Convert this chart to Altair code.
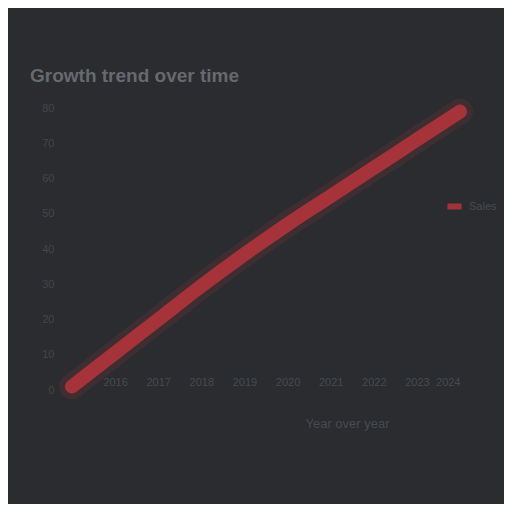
import altair as alt
import pandas as pd

years = [2015, 2016, 2017, 2018, 2019, 2020, 2021, 2022, 2023, 2024]
values = [1, 10.5, 20, 29.5, 38.5, 47, 55, 63, 71, 79]
series = ["Sales"] * len(years)

df = pd.DataFrame({"Year": years, "Value": values, "Series": series})

base = alt.Chart(df).encode(
    x=alt.X("Year:Q", title="Year over year",
            scale=alt.Scale(domain=[2015, 2024], nice=False),
            axis=alt.Axis(format="d", values=years[1:], grid=False, domain=False, ticks=False,
                          labelColor="#474a4f", labelFontSize=11, labelPadding=-14,
                          titleColor="#474a4f", titleFontSize=13, titleFontWeight="normal",
                          titlePadding=27, titleX=275, titleAnchor="middle")),
    y=alt.Y("Value:Q", title=None,
            scale=alt.Scale(domain=[0, 80], nice=False),
            axis=alt.Axis(values=[0, 10, 20, 30, 40, 50, 60, 70, 80], grid=False, domain=False,
                          ticks=False, labelColor="#43464b", labelFontSize=11, labelPadding=18)),
)

glow = base.mark_line(strokeWidth=26, strokeCap="round", opacity=0.15, interpolate="monotone").encode(
    color=alt.value("#b8343c"))
line = base.mark_line(strokeWidth=14, strokeCap="round", opacity=0.85, interpolate="monotone").encode(
    color=alt.Color("Series:N", scale=alt.Scale(range=["#b8343c"]),
                    legend=alt.Legend(orient="none", legendX=372, legendY=88, title=None,
                                      labelColor="#474a4f", labelFontSize=11,
                                      symbolType="stroke", symbolStrokeWidth=6, symbolSize=200)))

chart = (glow + line).properties(
    width=388, height=282,
    autosize=alt.AutoSizeParams(type="none"),
    padding={"top": 100, "left": 64, "right": 44, "bottom": 114},
    background="#2a2c30",
    title=alt.TitleParams("Growth trend over time", anchor="start", color="#66696e",
                          fontSize=19, fontWeight="bold", offset=22, dx=10, dy=48),
).configure_view(stroke=None)

chart.save("out.html", embed_options={"renderer": "svg", "actions": False})
